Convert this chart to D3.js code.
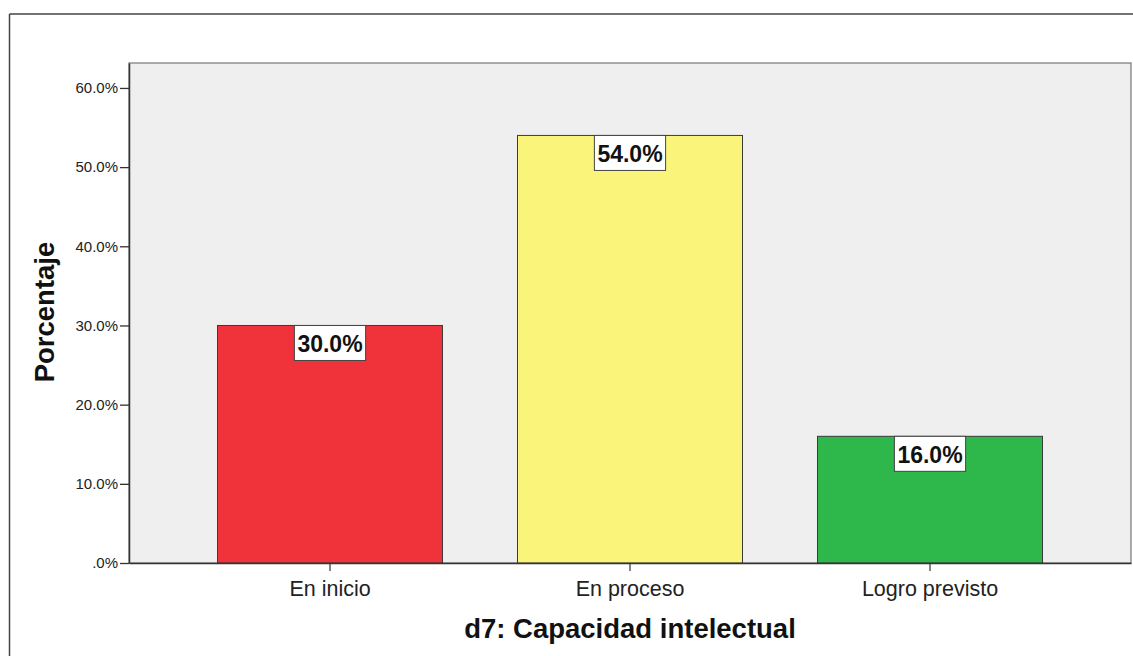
<!DOCTYPE html>
<html>
<head>
<meta charset="utf-8">
<script src="https://cdn.jsdelivr.net/npm/d3@7/dist/d3.min.js"></script>
<style>
  html, body { margin: 0; padding: 0; background: #fff; }
  svg { display: block; font-family: "Liberation Sans", Arial, sans-serif; }
</style>
</head>
<body>
<svg id="chart" width="1133" height="656"></svg>
<script>
const categories = ["En inicio", "En proceso", "Logro previsto"];
const values = [30.0, 54.0, 16.0];
const barColors = ["#F0323A", "#FAF57A", "#2EB74A"];
const yTicks = [0, 10, 20, 30, 40, 50, 60];
const yTickLabels = [".0%", "10.0%", "20.0%", "30.0%", "40.0%", "50.0%", "60.0%"];
const valueLabels = ["30.0%", "54.0%", "16.0%"];
const xTitle = "d7: Capacidad intelectual";
const yTitle = "Porcentaje";

const svg = d3.select("#chart");
const plot = { left: 129, right: 1131, top: 63, bottom: 563 };

// outer frame (top and left edges)
svg.append("line").attr("x1", 9.5).attr("x2", 1133).attr("y1", 14).attr("y2", 14)
  .attr("stroke", "#444").attr("stroke-width", 1.5);
svg.append("line").attr("x1", 9.5).attr("x2", 9.5).attr("y1", 14).attr("y2", 656)
  .attr("stroke", "#444").attr("stroke-width", 1.5);

const x = d3.scaleBand().domain(categories).range([plot.left, plot.right])
  .paddingInner(0.25).paddingOuter(0.295);
const y = d3.scaleLinear().domain([0, 63.15]).range([plot.bottom, plot.top]);

// plot background
svg.append("rect").attr("x", plot.left).attr("y", plot.top)
  .attr("width", plot.right - plot.left).attr("height", plot.bottom - plot.top)
  .attr("fill", "#EFEFEF").attr("stroke", "#777").attr("stroke-width", 1.2);

// bars
svg.append("g").selectAll("rect").data(values).join("rect")
  .attr("x", (d, i) => x(categories[i]))
  .attr("y", d => y(d))
  .attr("width", x.bandwidth())
  .attr("height", d => y(0) - y(d))
  .attr("fill", (d, i) => barColors[i])
  .attr("stroke", "#3a3a3a").attr("stroke-width", 1);

// y axis
const yAxis = d3.axisLeft(y).tickValues(yTicks).tickSize(9).tickSizeOuter(0).tickPadding(2)
  .tickFormat((d, i) => yTickLabels[i]);
const gy = svg.append("g").attr("transform", `translate(${plot.left},0)`).call(yAxis);
gy.select(".domain").attr("stroke", "#333").attr("stroke-width", 1.5);
gy.selectAll(".tick line").attr("stroke", "#333").attr("stroke-width", 1.3);
gy.selectAll(".tick text").attr("font-size", "15px").attr("fill", "#222")
  .attr("font-family", "Liberation Sans, Arial, sans-serif");

// x axis
const xAxis = d3.axisBottom(x).tickSize(8).tickPadding(10).tickSizeOuter(0);
const gx = svg.append("g").attr("transform", `translate(0,${plot.bottom})`).call(xAxis);
gx.select(".domain").attr("stroke", "#333").attr("stroke-width", 1.5);
gx.selectAll(".tick line").attr("stroke", "#333").attr("stroke-width", 1.2);
gx.selectAll(".tick text").attr("font-size", "21.5px").attr("fill", "#222")
  .attr("font-family", "Liberation Sans, Arial, sans-serif");

// value labels
const lbl = svg.append("g").selectAll("g").data(values).join("g")
  .attr("transform", (d, i) => `translate(${x(categories[i]) + x.bandwidth() / 2},${y(d)})`);
lbl.append("text")
  .attr("text-anchor", "middle").attr("y", 27)
  .attr("font-size", "23px").attr("font-weight", "bold").attr("fill", "#111")
  .text((d, i) => valueLabels[i]);
lbl.each(function () {
  const g = d3.select(this);
  const bb = g.select("text").node().getBBox();
  g.insert("rect", "text")
    .attr("x", -bb.width / 2 - 3).attr("y", 0)
    .attr("width", bb.width + 6).attr("height", 35)
    .attr("fill", "#fff").attr("stroke", "#444").attr("stroke-width", 1);
});

// titles
svg.append("text").attr("x", (plot.left + plot.right) / 2).attr("y", 638)
  .attr("text-anchor", "middle").attr("font-size", "27.5px").attr("font-weight", "bold")
  .attr("fill", "#111").text(xTitle);
svg.append("text").attr("transform", "translate(54,312) rotate(-90)")
  .attr("text-anchor", "middle").attr("font-size", "27.5px").attr("font-weight", "bold")
  .attr("fill", "#111").text(yTitle);
</script>
</body>
</html>
